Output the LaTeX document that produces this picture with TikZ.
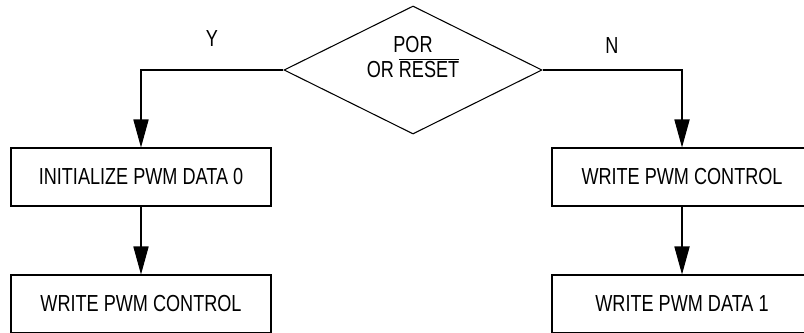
\documentclass[tikz,border=0pt]{standalone}
\usepackage{fontspec}
\setmainfont{Liberation Sans}[FakeStretch=0.78]
\usetikzlibrary{arrows.meta,positioning,shapes.geometric}
\newcommand{\flowfont}{\fontsize{16.5}{17.5}\selectfont}
\tikzset{
  >={Triangle[length=7mm,width=3.8mm]},
  stepbox/.style={draw,line width=0.75pt,minimum width=65mm,minimum height=14.5mm,
    inner sep=0pt,align=center,font=\flowfont},
  decision/.style={diamond,draw,line width=0.75pt,minimum width=64.5mm,
    minimum height=32mm,inner sep=0pt},
  flow/.style={->,line width=0.75pt},
  tag/.style={font=\flowfont,inner sep=0pt,align=center},
}

\begin{document}
\begin{tikzpicture}
  \useasboundingbox (0,0) rectangle (20.1,8.3);
  \clip (0,0) rectangle (20.1,8.3);
  % decision
  \node[decision] (por) at (10.325,6.55) {};
  \node[tag] (cond) at (10.325,6.87) {POR\\OR $\overline{\hbox{RESET}}$};
  \node[tag] (yes) at (5.3,7.33) {Y};
  \node[tag] (no) at (15.3,7.15) {N};
  % left branch
  \node[stepbox] (init) at (3.525,3.875) {INITIALIZE PWM DATA 0};
  \node[stepbox] (ctrlL) at (3.525,0.7) {WRITE PWM CONTROL};
  % right branch
  \node[stepbox] (ctrlR) at (17.05,3.875) {WRITE PWM CONTROL};
  \node[stepbox] (data1) at (17.05,0.7) {WRITE PWM DATA 1};
  \draw[flow] (por.west) -| (init.north);
  \draw[flow] (por.east) -| (ctrlR.north);
  \draw[flow] (init) -- (ctrlL);
  \draw[flow] (ctrlR) -- (data1);
\end{tikzpicture}
\end{document}
